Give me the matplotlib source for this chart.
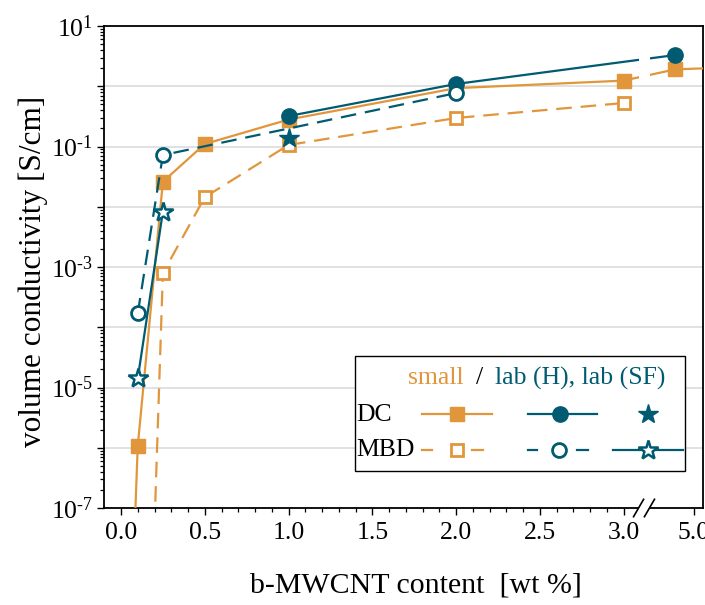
import matplotlib
matplotlib.use('Agg')
import matplotlib.pyplot as plt
import matplotlib.transforms as mtransforms
from matplotlib.lines import Line2D
from matplotlib.patches import Rectangle
from matplotlib.ticker import FixedLocator, LogLocator, NullFormatter
import numpy as np

plt.rcParams['font.family'] = ['Liberation Serif', 'DejaVu Serif']
plt.rcParams['mathtext.fontset'] = 'custom'
plt.rcParams['mathtext.rm'] = 'Liberation Serif'
plt.rcParams['mathtext.it'] = 'Liberation Serif:italic'
plt.rcParams['mathtext.bf'] = 'Liberation Serif:bold'

ORANGE = '#E1963B'
TEAL = '#005B72'

# ---------------- data (x in wt %) ----------------
small_dc_x = [0.05, 0.1, 0.25, 0.5, 1.0, 2.0, 3.0, 4.5, 6.0]
small_dc_y = [2e-10, 1.07e-6, 0.026, 0.11, 0.28, 0.93, 1.24, 1.91, 2.05]
small_mbd_x = [0.2, 0.25, 0.5, 1.0, 2.0, 3.0]
small_mbd_y = [5e-8, 7.9e-4, 0.0144, 0.106, 0.297, 0.527]
labH_dc_x = [1.0, 2.0, 4.5]
labH_dc_y = [0.32, 1.09, 3.3]
labH_mbd_x = [0.1, 0.25, 2.0]
labH_mbd_y = [1.7e-4, 0.072, 0.77]
labSF_dc_x = [1.0]
labSF_dc_y = [0.137]
labSF_mbd_x = [0.1, 0.25]
labSF_mbd_y = [1.42e-5, 0.0083]

x_ticks = [0.0, 0.5, 1.0, 1.5, 2.0, 2.5, 3.0, 5.0]
x_ticklabels = ['0.0', '0.5', '1.0', '1.5', '2.0', '2.5', '3.0', '5.0']
y_exponents = list(range(-7, 2))

# broken x axis: values beyond the break are compressed
BREAK_LO_POS, BREAK_HI_POS = 3.093, 3.158
AFTER_VAL, AFTER_POS, AFTER_SCALE = 4.0, 3.2, 0.22


def pos(x):
    x = np.asarray(x, float)
    return np.where(x <= 3.0, x, AFTER_POS + (x - AFTER_VAL) * AFTER_SCALE)


W, H = 705, 605
fig = plt.figure(figsize=(W / 100, H / 100), dpi=100)
ax = fig.add_axes([104 / W, 1 - 508 / H, (703 - 104) / W, (508 - 26) / H])
ax.set_yscale('log')
XMIN, XMAX = -0.1015, 3.4746
ax.set_xlim(XMIN, XMAX)
ax.set_ylim(1e-7, 1e1)

blend = mtransforms.blended_transform_factory(ax.transData, ax.transAxes)

DASH = (0, (7, 4))


def series(xs, ys, color, ls, marker, ms, mfc, mew, lw=1.6, z=3):
    px = pos(xs)
    if ls is not None:
        for (a, b) in [(XMIN, BREAK_LO_POS), (BREAK_HI_POS, XMAX)]:
            ln, = ax.plot(px, ys, color=color, ls=ls, lw=lw, zorder=z)
            ln.set_clip_path(Rectangle((a, 0), b - a, 1, transform=blend))
    ax.plot(px, ys, ls='none', marker=marker, ms=ms, mfc=mfc, mec=color,
            mew=mew, zorder=z + 0.5)


series(small_dc_x, small_dc_y, ORANGE, '-', 's', 10.5, ORANGE, 1)
series(small_mbd_x, small_mbd_y, ORANGE, DASH, 's', 9, 'white', 2)
series(labH_dc_x, labH_dc_y, TEAL, '-', 'o', 11, TEAL, 1, z=4)
series(labH_mbd_x, labH_mbd_y, TEAL, DASH, 'o', 10, 'white', 2, z=4)
series(labSF_dc_x, labSF_dc_y, TEAL, None, '*', 15, TEAL, 1, z=5)
series(labSF_mbd_x, labSF_mbd_y, TEAL, '-', '*', 15, 'white', 1.8, z=5)

# grid
for e in y_exponents:
    ax.axhline(10.0 ** e, color='#dcdcdc', lw=1.2, zorder=1)

# ticks
ax.set_xticks(pos(x_ticks))
ax.set_xticklabels(x_ticklabels)
ax.xaxis.set_minor_locator(FixedLocator([i / 10 for i in range(1, 30) if i % 5]))
ax.set_yticks([10.0 ** e for e in y_exponents])
ax.yaxis.set_minor_locator(LogLocator(base=10, subs=np.arange(2, 10), numticks=100))
ax.yaxis.set_minor_formatter(NullFormatter())
ax.tick_params(which='major', direction='out', length=5, width=1, labelsize=18.5)
ax.tick_params(axis='x', which='major', pad=5)
ax.tick_params(axis='y', which='major', pad=3)
ax.tick_params(which='minor', direction='out', length=2.8, width=0.9)
for s in ax.spines.values():
    s.set_linewidth(1.3)


def ylabels(hyphen):
    out = []
    for e in y_exponents:
        if e % 2 == 0:
            out.append('')
        elif e < 0 and hyphen:
            out.append(r'$10^{\text{-}%d}$' % (-e))
        else:
            out.append(r'$10^{%d}$' % e)
    return out


ax.set_yticklabels(ylabels(True))
try:
    fig.canvas.draw()
except Exception:
    ax.set_yticklabels(ylabels(False))

ax.set_xlabel('b-MWCNT content  [wt %]', fontsize=21.5)
ax.set_ylabel('volume conductivity [S/cm]', fontsize=22.5)
ax.xaxis.set_label_coords(0.52, -0.133)
ax.yaxis.set_label_coords(-0.093, 0.49)

# break marks on x axis
ax.add_patch(Rectangle((3.095, -0.006), 0.06, 0.012, transform=blend,
                       facecolor='white', edgecolor='none', clip_on=False, zorder=6))
dx, dy = 0.03, 0.018
for xc in (3.09, 3.155):
    ax.add_line(Line2D([xc - dx, xc + dx], [-dy, dy], transform=blend, color='black',
                       lw=1.2, clip_on=False, zorder=7))

# ---------------- legend (drawn by hand) ----------------
def P(x, y):
    return x / W, 1 - y / H

fig.patches.append(Rectangle(P(355, 471), (685 - 355) / W, (471 - 356) / H,
                             transform=fig.transFigure, facecolor='white',
                             edgecolor='black', lw=1.0, zorder=10))
fs = 18.5
fig.text(*P(408, 378), 'small', color=ORANGE, fontsize=fs, ha='left', va='center', zorder=11)
fig.text(*P(476, 378), '/', color='black', fontsize=fs, ha='left', va='center', zorder=11)
fig.text(*P(495, 378), 'lab (H), lab (SF)', color=TEAL, fontsize=fs, ha='left', va='center', zorder=11)
fig.text(*P(356, 415), 'DC', color='black', fontsize=fs, ha='left', va='center', zorder=11)
fig.text(*P(356, 450), 'MBD', color='black', fontsize=fs, ha='left', va='center', zorder=11)


def lline(x0, x1, y, color):
    a, b = P(x0, y), P(x1, y)
    fig.lines.append(Line2D([a[0], b[0]], [a[1], b[1]], transform=fig.transFigure,
                            color=color, lw=1.6, zorder=11))


def lmark(x, y, color, marker, ms, mfc, mew):
    a = P(x, y)
    fig.lines.append(Line2D([a[0]], [a[1]], transform=fig.transFigure, ls='none',
                            marker=marker, ms=ms, mfc=mfc, mec=color, mew=mew, zorder=12))


# DC row
lline(422, 492, 414, ORANGE); lmark(457, 414, ORANGE, 's', 10.5, ORANGE, 1)
lline(528, 597, 414, TEAL); lmark(560, 414, TEAL, 'o', 11, TEAL, 1)
lmark(648, 414, TEAL, '*', 15, TEAL, 1)
# MBD row
lline(422, 432, 450, ORANGE); lline(472, 483, 450, ORANGE)
lmark(457, 450, ORANGE, 's', 9, 'white', 2)
lline(528, 537, 450, TEAL); lline(577, 588, 450, TEAL)
lmark(559, 450, TEAL, 'o', 10, 'white', 2)
lline(613, 683, 450, TEAL); lmark(648, 450, TEAL, '*', 15, 'white', 1.8)

fig.savefig('out.png', dpi=100)
